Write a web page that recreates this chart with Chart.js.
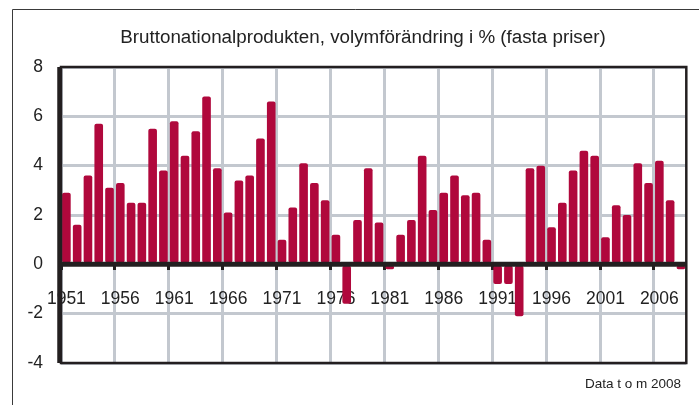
<!DOCTYPE html>
<html>
<head>
<meta charset="utf-8">
<script src="https://cdn.jsdelivr.net/npm/chart.js@4/dist/chart.umd.min.js"></script>
<style>
  html, body { margin: 0; padding: 0; background: #fff; }
  #wrap { width: 699px; height: 405px; }
</style>
</head>
<body>
<div id="wrap"><canvas id="bnp" width="699" height="405"></canvas></div>
<script>
// BNP, volymförändring i %, 1951-2008
const years = [];
for (let y = 1951; y <= 2008; y++) years.push(String(y));

const growth = [
  2.9, 1.6, 3.6, 5.7, 3.1, 3.3, 2.5, 2.5, 5.5, 3.8,
  5.8, 4.4, 5.4, 6.8, 3.9, 2.1, 3.4, 3.6, 5.1, 6.6,
  1.0, 2.3, 4.1, 3.3, 2.6, 1.2, -1.6, 1.8, 3.9, 1.7,
  -0.2, 1.2, 1.8, 4.4, 2.2, 2.9, 3.6, 2.8, 2.9, 1.0,
  -0.8, -0.8, -2.1, 3.9, 4.0, 1.5, 2.5, 3.8, 4.6, 4.4,
  1.1, 2.4, 2.0, 4.1, 3.3, 4.2, 2.6, -0.2
];

const yTicks = [-4, -2, 0, 2, 4, 6, 8];

const titleText = "Bruttonationalprodukten, volymförändring i % (fasta priser)";
const noteText = "Data t o m 2008";

const gridGray = "#c3c8cf";
const ink = "#231f20";

// frame, zero line and texts
const decor = {
  id: "decor",
  beforeDraw(chart) {
    const ctx = chart.ctx;
    ctx.save();
    ctx.strokeStyle = "#3a3a3a";
    ctx.lineWidth = 1;
    ctx.beginPath();
    ctx.moveTo(12.5, 405);
    ctx.lineTo(12.5, 9.5);
    ctx.lineTo(699, 9.5);
    ctx.stroke();

    ctx.fillStyle = "#222";
    ctx.font = "18.8px 'Liberation Sans', Arial, sans-serif";
    ctx.textAlign = "center";
    ctx.textBaseline = "middle";
    ctx.fillText(titleText, 363, 38);

    ctx.font = "13.5px 'Liberation Sans', Arial, sans-serif";
    ctx.textAlign = "right";
    ctx.fillText(noteText, 681, 384);
    ctx.restore();
  },
  afterDatasetsDraw(chart) {
    const ctx = chart.ctx;
    const a = chart.chartArea;
    const zero = chart.scales.y.getPixelForValue(0);
    ctx.save();
    ctx.strokeStyle = ink;
    ctx.lineWidth = 2.5;
    ctx.strokeRect(a.left, a.top, a.right - a.left, a.bottom - a.top);
    ctx.lineWidth = 3.5;
    ctx.beginPath();
    ctx.moveTo(a.left - 2, a.top);
    ctx.lineTo(a.left - 2, a.bottom);
    ctx.stroke();
    ctx.lineWidth = 5;
    ctx.beginPath();
    ctx.moveTo(a.left - 3, zero);
    ctx.lineTo(a.right, zero);
    ctx.stroke();
    ctx.restore();
  }
};

new Chart(document.getElementById("bnp"), {
  type: "bar",
  data: {
    labels: years,
    datasets: [{
      data: growth,
      backgroundColor: "#b0083c",
      borderColor: "#b0083c",
      borderWidth: 0,
      borderRadius: 2,
      borderSkipped: false,
      barPercentage: 0.8,
      categoryPercentage: 1.0
    }]
  },
  options: {
    responsive: false,
    animation: false,
    layout: { padding: { left: 13, right: 10, top: 67, bottom: 42 } },
    plugins: {
      legend: { display: false },
      title: { display: false },
      tooltip: { enabled: false }
    },
    scales: {
      x: {
        position: { y: 0 },
        offset: true,
        border: { display: false },
        grid: {
          offset: true,
          lineWidth: 3,
          tickLength: 6,
          tickWidth: 3,
          color: (c) => (c.index % 5 === 0 ? gridGray : "rgba(0,0,0,0)"),
          tickColor: (c) => (c.index % 5 === 0 ? ink : "rgba(0,0,0,0)")
        },
        ticks: {
          autoSkip: false,
          maxRotation: 0,
          padding: 18,
          color: "#222",
          font: { family: "'Liberation Sans', Arial, sans-serif", size: 17.5 },
          callback: function (v, i) { return i % 5 === 0 ? this.getLabelForValue(v) : ""; }
        }
      },
      y: {
        min: -4,
        max: 8,
        afterFit: (s) => { s.width = 48; },
        afterBuildTicks: (s) => { s.ticks = yTicks.map((v) => ({ value: v })); },
        border: { display: false },
        grid: {
          lineWidth: 3,
          drawTicks: false,
          color: gridGray
        },
        ticks: {
          padding: 18,
          color: "#222",
          font: { family: "'Liberation Sans', Arial, sans-serif", size: 17.5 }
        }
      }
    }
  },
  plugins: [decor]
});
</script>
</body>
</html>
